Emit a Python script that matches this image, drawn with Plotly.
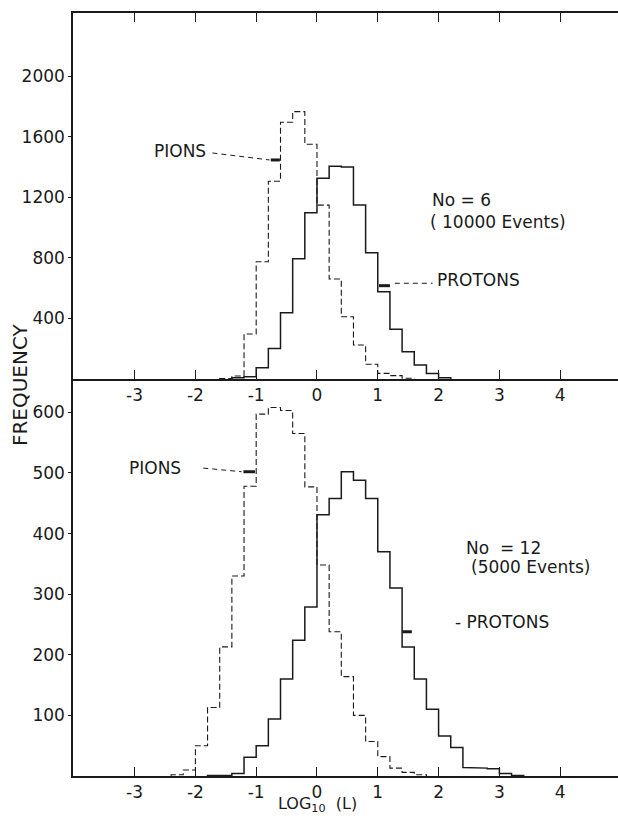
import plotly.graph_objects as go

# ---------------- data ----------------
BIN_EDGES = [-2.6, -2.4, -2.2, -2.0, -1.8, -1.6, -1.4, -1.2, -1.0, -0.8, -0.6,
             -0.4, -0.2, 0.0, 0.2, 0.4, 0.6, 0.8, 1.0, 1.2, 1.4, 1.6, 1.8,
             2.0, 2.2, 2.4, 2.6, 2.8, 3.0, 3.2, 3.4]

# No = 6 (10000 events)
PIONS_N6 = [0, 0, 0, 0, 0, 3, 20, 297, 774, 1305, 1695, 1765, 1550, 1148, 660,
            411, 224, 97, 37, 22, 5, 0, 0, 0, 0, 0, 0, 0, 0, 0]
PROTONS_N6 = [0, 0, 0, 0, 0, 0, 8, 15, 75, 202, 438, 794, 1098, 1325, 1405,
              1400, 1148, 834, 576, 328, 180, 92, 37, 9, 0, 0, 0, 0, 0, 0]

# No = 12 (5000 events)
PIONS_N12 = [0, 2, 10, 50, 113, 213, 330, 478, 597, 608, 603, 565, 477, 348, 238,
             164, 100, 57, 32, 13, 6, 2, 0, 0, 0, 0, 0, 0, 0, 0]
PROTONS_N12 = [0, 0, 0, 0, 1, 1, 4, 31, 50, 94, 160, 224, 279, 431, 458,
               502, 488, 458, 370, 310, 213, 160, 110, 66, 47, 14, 13, 12, 4, 1]

X_TICKS = [-3, -2, -1, 0, 1, 2, 3, 4]
X_TICK_LABELS = ["-3", "-2", "-1", "0", "1", "2", "3", "4"]
Y_TICKS_N6 = [400, 800, 1200, 1600, 2000]
Y_TICKS_N12 = [100, 200, 300, 400, 500, 600]

X_RANGE = [-4.013, 4.951]
Y_RANGE_N6 = [0, 2416]
Y_RANGE_N12 = [0, 655]

FONT = "DejaVu Sans"
INK = "#1a1a1a"


def step_xy(edges, counts):
    nz = [i for i, c in enumerate(counts) if c > 0]
    a, b = nz[0], nz[-1]
    xs = [edges[a]]
    ys = [0]
    for i in range(a, b + 1):
        xs += [edges[i], edges[i + 1]]
        ys += [counts[i], counts[i]]
    xs.append(edges[b + 1])
    ys.append(0)
    return xs, ys


fig = go.Figure()

series = [
    (PIONS_N6, "x2", "y2", "6px,3px", 1.1),
    (PROTONS_N6, "x2", "y2", "solid", 1.5),
    (PIONS_N12, "x", "y", "6px,3px", 1.1),
    (PROTONS_N12, "x", "y", "solid", 1.5),
]
for counts, xa, ya, dash, w in series:
    xs, ys = step_xy(BIN_EDGES, counts)
    fig.add_trace(go.Scatter(x=xs, y=ys, xaxis=xa, yaxis=ya, mode="lines",
                             line=dict(color=INK, width=w, dash=dash),
                             hoverinfo="skip", showlegend=False))

split = 397 / 763

axis_common = dict(showgrid=False, zeroline=False, showline=True,
                   linecolor=INK, linewidth=1.5, tickcolor=INK,
                   tickfont=dict(family=FONT, size=17, color=INK))

fig.update_layout(
    width=618, height=819,
    margin=dict(l=73, r=0, t=13, b=43),
    paper_bgcolor="white", plot_bgcolor="white",
    showlegend=False,
    xaxis=dict(domain=[0, 1], range=X_RANGE, anchor="y", tickvals=X_TICKS,
               ticktext=X_TICK_LABELS, ticks="inside", ticklen=9, **axis_common),
    yaxis=dict(domain=[0, split], range=Y_RANGE_N12, anchor="x",
               tickvals=Y_TICKS_N12, ticks="outside", ticklen=3, **axis_common),
    xaxis2=dict(domain=[0, 1], range=X_RANGE, anchor="y2", tickvals=X_TICKS,
                ticktext=X_TICK_LABELS, ticks="inside", ticklen=9,
                mirror="ticks", **axis_common),
    yaxis2=dict(domain=[split, 1], range=Y_RANGE_N6, anchor="x2",
                tickvals=Y_TICKS_N6, ticks="outside", ticklen=3, **axis_common),
)


def label(text, x, y, xref, yref, size=17):
    fig.add_annotation(text=text, x=x, y=y, xref=xref, yref=yref,
                       showarrow=False, font=dict(family=FONT, size=size, color=INK),
                       xanchor="center", yanchor="middle")


# top panel texts
label("PIONS", -2.25, 1505, "x2", "y2")
label("No = 6", 2.37, 1181, "x2", "y2")
label("( 10000 Events)", 2.98, 1036, "x2", "y2")
label("PROTONS", 2.66, 653, "x2", "y2")
# bottom panel texts
label("PIONS", -2.66, 508, "x", "y")
label("No  = 12", 3.06, 376, "x", "y")
label("(5000 Events)", 3.52, 345, "x", "y")
label("- PROTONS", 3.04, 254, "x", "y")

# axis titles
fig.add_annotation(text="LOG<sub>10</sub>  (L)", x=0.448, y=-0.0535, xref="paper",
                   yref="paper", showarrow=False, xanchor="center", yanchor="bottom",
                   font=dict(family=FONT, size=16, color=INK))
fig.add_annotation(text="FREQUENCY", x=-0.097, y=0.5125, xref="paper", yref="paper",
                   showarrow=False, textangle=-90, xanchor="center", yanchor="middle",
                   font=dict(family=FONT, size=20, color=INK))

# leader lines and pointer marks
leaders = [
    ("x2", "y2", -1.72, 1492, -0.78, 1446),
    ("x2", "y2", 1.28, 632, 1.90, 632),
    ("x", "y", -1.87, 508, -1.24, 502),
]
for xr, yr, x0, y0, x1, y1 in leaders:
    fig.add_shape(type="line", xref=xr, yref=yr, x0=x0, y0=y0, x1=x1, y1=y1,
                  line=dict(color=INK, width=1, dash="5px,4px"))

marks = [
    ("x2", "y2", -0.76, -0.61, 1446),
    ("x2", "y2", 1.02, 1.20, 616),
    ("x", "y", -1.21, -1.02, 502),
    ("x", "y", 1.40, 1.56, 238),
]
for xr, yr, x0, x1, yv in marks:
    fig.add_shape(type="line", xref=xr, yref=yr, x0=x0, y0=yv, x1=x1, y1=yv,
                  line=dict(color=INK, width=3))

fig.write_html("out.html")
